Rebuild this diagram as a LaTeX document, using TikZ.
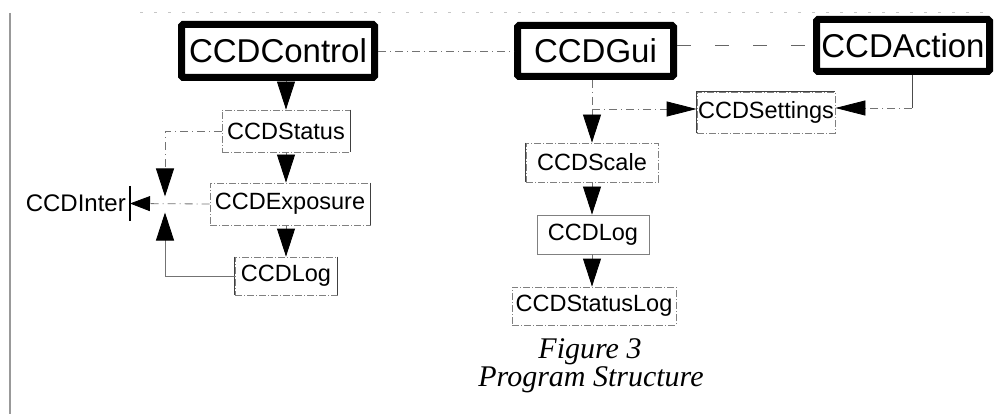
\documentclass[tikz,border=0pt]{standalone}
\usepackage{fontspec}
\setmainfont{Liberation Sans}
\newfontfamily\capfont{Liberation Serif}
\usetikzlibrary{arrows.meta}
\tikzset{
  bigbox/.style={draw, line width=7pt, rounded corners=1.5pt, inner sep=0pt, font=\fontsize{33}{36}\selectfont},
  smallbox/.style={draw=gray, line width=0.8pt, dash pattern=on 7pt off 2pt on 1pt off 2pt, inner sep=0pt, font=\fontsize{23.5}{26}\selectfont},
  edge/.style={draw=black!75, line width=0.9pt},
  link/.style={-{Triangle[width=18pt,length=28pt,color=black]}, line width=0.8pt, black!55},
  sidelink/.style={-{Triangle[width=15pt,length=30pt,color=black]}, line width=0.8pt, black!55},
  dashlink/.style={dash pattern=on 8pt off 4pt on 1pt off 4pt},
  caption/.style={inner sep=0pt, font=\capfont\itshape\fontsize{30}{32}\selectfont}
}

\begin{document}
\begin{tikzpicture}[x=1pt,y=-1pt]
\useasboundingbox (0,0) rectangle (995,414);

% page margin and scan rule
\draw[gray!80, line width=2pt] (10,13) -- (10,414);
\draw[gray!45, line width=0.6pt, dash pattern=on 3pt off 11pt] (140,12) -- (990,12);

% main classes
\node[bigbox, minimum width=193pt, minimum height=53pt] (control) at (278,51) {CCDControl};
\node[bigbox, minimum width=156pt, minimum height=51pt] (gui) at (595.5,51) {CCDGui};
\node[bigbox, minimum width=173pt, minimum height=52pt] (action) at (903,45.5) {CCDAction};

% left column
\node[smallbox, minimum width=128pt, minimum height=42pt] (status) at (286,131) {CCDStatus};
\node[smallbox, minimum width=160pt, minimum height=42pt] (exposure) at (290,204) {CCDExposure};
\node[smallbox, minimum width=102pt, minimum height=38pt] (logA) at (286,276) {CCDLog};
\node[inner xsep=4pt, minimum height=35pt, anchor=east, font=\fontsize{24}{26}\selectfont] (inter) at (130,203.5) {CCDInter};

% middle column
\node[smallbox, minimum width=132pt, minimum height=39pt] (scale) at (592,162.5) {CCDScale};
\node[smallbox, solid, minimum width=112pt, minimum height=39pt] (logB) at (593,234.5) {CCDLog};
\node[smallbox, minimum width=164pt, minimum height=38pt] (statuslog) at (594,306) {CCDStatusLog};

% right side
\node[smallbox, minimum width=138pt, minimum height=41pt] (settings) at (766,112.5) {CCDSettings};

% solid edges of the thin boxes
\draw[edge] (status.north east) -- (status.south east);
\draw[edge] (exposure.north east) -- (exposure.south east);
\draw[edge] (logA.north west) -- (logA.south west);
\draw[edge] (logA.north east) -- (logA.south east);
\draw[edge] (scale.north west) -- (scale.south west);
\draw[edge] (settings.south west) -- (settings.north west) -- (settings.north east);
\draw[black, line width=1.2pt] (inter.north east) -- (inter.south east);

% links between the main classes
\draw[black!55, line width=0.8pt, dashlink] (control.east) -- (gui.west);
\draw[black!60, line width=0.8pt, dash pattern=on 14pt off 24pt] (action.west -| gui.east) -- (action.west);

% left column arrows
\coordinate (jn) at (165,203.5);
\draw[link] (status.north |- control.south) -- (status.north);
\draw[link] (status.south) -- (status.south |- exposure.north);
\draw[link] (logA.north |- exposure.south) -- (logA.north);
\draw[sidelink, -{Triangle[width=15pt,length=20pt,color=black]}, dashlink] (exposure.west) -- (inter.east);
\draw[link, dashlink, shorten >=7pt] (status.west) -| (jn);
\draw[link, shorten >=9pt] (logA.west) -| (jn);

% middle column arrows
\coordinate (gj) at (592,109);
\draw[black!55, line width=0.8pt, dashlink] (scale.north |- gui.south) -- (gj);
\draw[link] (gj) -- (scale.north);
\draw[link] (scale.south) -- (scale.south |- logB.north);
\draw[link] (logB.south -| scale.south) -- (statuslog.north -| scale.south);

% settings arrows
\coordinate (aj) at (912,108);
\draw[sidelink, dashlink] (gj) -- (gj -| settings.west);
\draw[black!70, line width=0.8pt] (aj |- action.south) -- (aj);
\draw[sidelink, dashlink] (aj) -- (aj -| settings.east);

% caption
\node[caption] (fig) at (590,352) {Figure 3};
\node[caption] (title) at (591,380) {Program Structure};
\end{tikzpicture}
\end{document}
